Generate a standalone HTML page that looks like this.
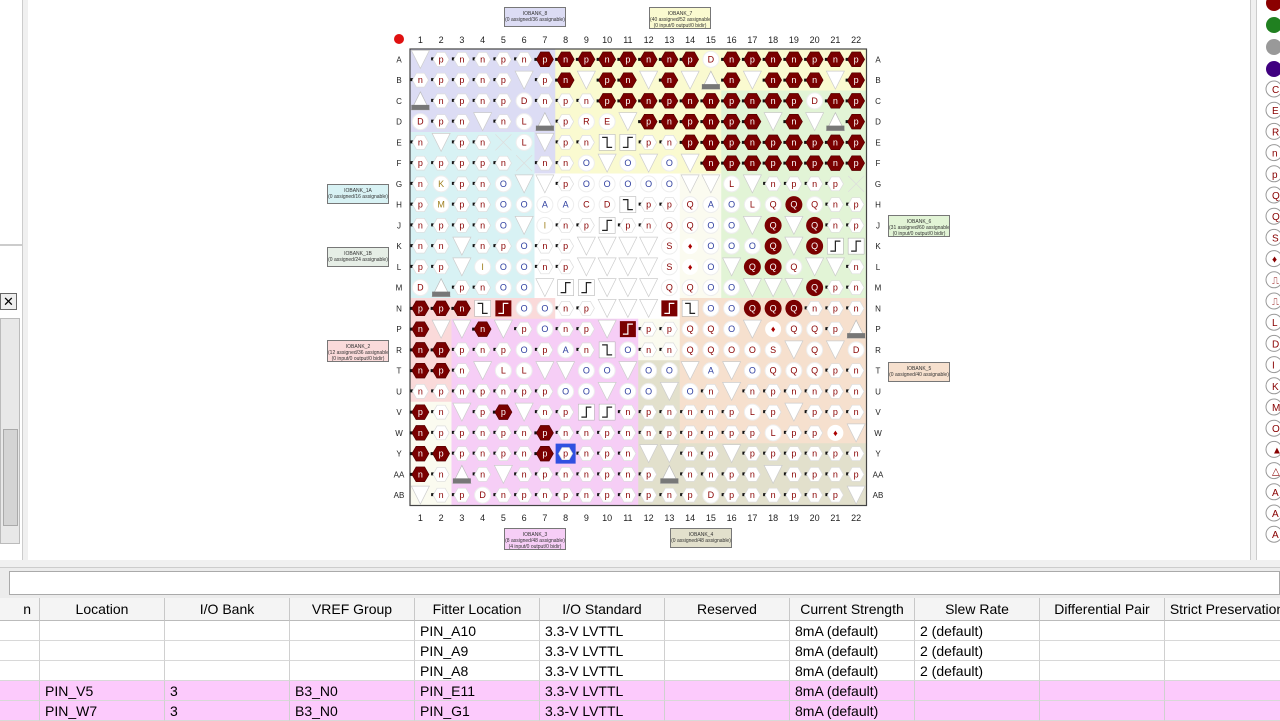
<!DOCTYPE html>
<html><head><meta charset="utf-8">
<style>
body{margin:0;width:1280px;height:720px;overflow:hidden;background:#f0f0f0;font-family:"Liberation Sans",sans-serif;position:relative}
.abs{position:absolute}
.tbl{position:absolute;left:0;top:598px;width:1280px;font-size:14px;color:#000}
.cell{position:absolute;height:20px;line-height:20px;border-right:1px solid #d0d0d0;border-bottom:1px solid #d8d8d8;box-sizing:border-box;padding-left:5px;white-space:nowrap;overflow:hidden}
.hd{text-align:center;padding:0;background:#f4f4f4;border-right:1px solid #c8c8c8;border-bottom:1px solid #bbb;height:23px;line-height:23px}
.bank{position:absolute;border:1px solid #777;font-size:5px;line-height:6px;text-align:center;color:#333;box-sizing:border-box;padding-top:3px;white-space:nowrap;overflow:hidden}
</style></head><body>
<div class="abs" style="left:0;top:0;width:22px;height:560px;background:#fff;border-right:1px solid #ccc"></div>
<div class="abs" style="left:0;top:244px;width:22px;height:2px;background:#ccc"></div>
<div class="abs" style="left:0;top:293px;width:15px;height:15px;border:1px solid #666;background:#eee;font-size:13px;line-height:15px;text-align:center">✕</div>
<div class="abs" style="left:0;top:318px;width:18px;height:224px;background:#e8e8e8;border:1px solid #bbb"><div style="position:absolute;left:2px;top:110px;width:13px;height:95px;background:#d4d4d4;border:1px solid #aaa"></div></div>
<div class="abs" style="left:28px;top:0;width:1222px;height:560px;background:#fff;border-right:1px solid #ccc"></div>
<div class="abs" style="left:1256px;top:0;width:24px;height:560px;background:#fff;border-left:1px solid #ccc"></div>
<svg class="abs" style="left:0;top:0" width="1280" height="560" id="chip"></svg>
<div class="abs" style="left:0;top:567px;width:1280px;height:30px;background:#ececec;border-top:1px solid #ccc"></div>
<div class="abs" style="left:9px;top:571px;width:1271px;height:24px;background:#fff;border:1px solid #aaa;box-sizing:border-box"></div>
<div class="tbl" id="tbl"></div>
<script>
const rows=["A","B","C","D","E","F","G","H","J","K","L","M","N","P","R","T","U","V","W","Y","AA","AB"];
const grid=[
"vpnnpnPNPNPNNPDNPNNPNP",
"nppnpvpNvPNvNv^NvNNNvP",
"^npnpDnpnPPNPNNPNNPDNP",
"DpnvnL^pREvPNPNPNvNv^P",
"nvpnxLvpn[]pnPNPNPNPNP",
"ppppnxnnOvOvOvNPNPNPNP",
"nKpnOvvpOOOOOvvLvnpnpx",
"pMpnOOAAcD[ppqAOLqQqnp",
"nppnOvInp]pnqqOOvQvQnp",
"nnvnpOnpvvvvSROOOQvQ]]",
"ppvIOOnpvvvvSROvQQqvvn",
"D^pnOOv]]vvvqqOOvvvQpn",
"PPN[BOOnpvvvB[OOQQQnpn",
"NvvNvpOnpvBppqqOvRqqp^",
"NPpnpOpAn[OnnqqooSvqvD",
"NPnvLLvvOOvOOvAvOqqqpn",
"npnpnppOOvOOvOnvnpnnpn",
"PnvpPvnp]]npnnnpLpvppn",
"NppnpnPnnpnnpppppLppRvn",
"NPpnpnPSnpnvvnpvpppnpnp",
"Nn^nvnpnnpnp^nnpnvnpnpn",
"vnpDnpnpnpnpnpDpnnpnpv"];
const banks=[
 {c:[1,22],r:[1,22],col:"#fbfbf0"},
 {c:[1,10],r:[1,7],col:"#dcdcf4"},
 {c:[8,22],r:[1,6],col:"#fafad0"},
 {c:[16,22],r:[3,13],col:"#e2f4d6"},
 {c:[1,6],r:[5,12],col:"#d8f2f4"},
 {c:[7,13],r:[7,13],col:"#ffffff"},
 {c:[1,7],r:[13,17],col:"#fadada"},
 {c:[10,22],r:[16,22],col:"#e2e0cc"},
 {c:[3,11],r:[14,22],col:"#f6cef6"},
 {c:[14,22],r:[13,19],col:"#f6e0ce"}
];
const svg=document.getElementById('chip');
const NS="http://www.w3.org/2000/svg";
const X0=410,Y0=49,S=20.75;
const cx=c=>X0+(c-0.5)*S, cy=r=>Y0+(r-0.5)*S;
function mk(t,a,p){const e=document.createElementNS(NS,t);for(const k in a)e.setAttribute(k,a[k]);(p||svg).appendChild(e);return e;}
banks.forEach(b=>{const e=mk('rect',{x:X0+(b.c[0]-1)*S,y:Y0+(b.r[0]-1)*S,width:(b.c[1]-b.c[0]+1)*S,height:(b.r[1]-b.r[0]+1)*S,fill:b.col});

});
mk('rect',{x:X0,y:Y0,width:22*S,height:22*S,fill:'none',stroke:'#444','stroke-width':1.2});
mk('circle',{cx:399,cy:39,r:5,fill:'#e01010'});
for(let c=1;c<=22;c++){[39,517].forEach(y=>{const t=mk('text',{x:cx(c),y:y+4,'font-size':9,'text-anchor':'middle',fill:'#222'});t.textContent=c;});}
rows.forEach((r,i)=>{[399,878].forEach(x=>{const t=mk('text',{x:x,y:cy(i+1)+3,'font-size':8,'text-anchor':'middle',fill:'#222'});t.textContent=r;});});
function hex(x,y,r,fill,stroke,g){let p=[];for(let k=0;k<6;k++){const a=Math.PI/3*k;p.push((x+r*Math.cos(a)).toFixed(1)+','+(y+r*Math.sin(a)).toFixed(1));}return mk('polygon',{points:p.join(' '),fill:fill,stroke:stroke,'stroke-width':0.7},g);}
grid.forEach((row,ri)=>{for(let ci=0;ci<22;ci++){const ch=row[ci];if(!ch)continue;const x=cx(ci+1),y=cy(ri+1);let g=mk('g',{});


const lbl=(t,col)=>{const e=mk('text',{x:x,y:y+3,'font-size':9,'text-anchor':'middle',fill:col},g);e.textContent=t;};
if(ch==='p'||ch==='n'){mk('rect',{x:x-10,y:y-2,width:3,height:3,fill:'#111'},g);hex(x,y,8,'#fff','#ddd',g);lbl(ch,'#800');}
else if(ch==='P'||ch==='N'){mk('rect',{x:x-10.5,y:y-1.5,width:3,height:3,fill:'#111'},g);hex(x,y,8.5,'#7a0000','#500',g);lbl(ch.toLowerCase(),'#fff');}
else if(ch==='v'){mk('polygon',{points:`${x-9},${y-9} ${x+9},${y-9} ${x},${y+9}`,fill:'#fff',stroke:'#ccc','stroke-width':0.7},g);}
else if(ch==='^'){mk('polygon',{points:`${x},${y-9} ${x+9},${y+9} ${x-9},${y+9}`,fill:'#fff',stroke:'#bbb','stroke-width':0.7},g);mk('rect',{x:x-9,y:y+4,width:18,height:5,fill:'#777'},g);}
else if(ch==='x'){mk('path',{d:`M${x-8} ${y-8}L${x+8} ${y+8}M${x+8} ${y-8}L${x-8} ${y+8}`,stroke:'#ddd','stroke-width':0.7},g);}
else if(ch==='['||ch===']'){mk('rect',{x:x-8,y:y-8,width:16,height:16,fill:'#fff',stroke:'#aaa','stroke-width':0.5},g);mk('path',{d:ch==='['?`M${x-5} ${y-5}H${x}V${y+5}H${x+5}`:`M${x-5} ${y+5}H${x}V${y-5}H${x+5}`,fill:'none',stroke:'#222','stroke-width':1.2},g);}
else if(ch==='B'){mk('rect',{x:x-8,y:y-8,width:16,height:16,fill:'#7a0000'},g);mk('path',{d:`M${x-5} ${y+5}H${x}V${y-5}H${x+5}`,fill:'none',stroke:'#fff','stroke-width':1.2},g);}
else if(ch==='Q'){mk('circle',{cx:x,cy:y,r:8.5,fill:'#7a0000'},g);lbl('Q','#fff');}
else if(ch==='S'&&ri===19){mk('rect',{x:x-10,y:y-10,width:20,height:20,fill:'#3050e0'},g);hex(x,y,7,'#fff','#ddd',g);lbl('p','#800');}
else if(ch==='R'&&ci>11){mk('circle',{cx:x,cy:y,r:8,fill:'#fff'},g);lbl('♦','#a00');}
else {mk('circle',{cx:x,cy:y,r:8,fill:'#fff',stroke:'#eee'},g);const col=/[OA]/.test(ch)?'#3040a0':(ch==='K'||ch==='M'||ch==='I')?'#a08020':'#800';lbl(ch==='q'||ch==='o'?ch.toUpperCase():ch==='c'?'C':ch,col);}
}});
const bl=[[504,7,"#dcdcf4",["IOBANK_8","(0 assigned/36 assignable)"]],[649,7,"#fafad0",["IOBANK_7","(40 assigned/52 assignable)","(0 input/0 output/0 bidir)"]],
[327,184,"#d8f2f4",["IOBANK_1A","(0 assigned/16 assignable)"]],[327,247,"#e6eee6",["IOBANK_1B","(0 assigned/24 assignable)"]],
[327,340,"#fadada",["IOBANK_2","(12 assigned/36 assignable)","(0 input/0 output/0 bidir)"]],[888,215,"#e2f4d6",["IOBANK_6","(31 assigned/60 assignable)","(0 input/0 output/0 bidir)"]],
[888,362,"#f6e0ce",["IOBANK_5","(0 assigned/40 assignable)"]],[504,528,"#f6cef6",["IOBANK_3","(8 assigned/48 assignable)","(4 input/0 output/0 bidir)"]],
[670,528,"#e2e0cc",["IOBANK_4","(0 assigned/48 assignable)"]]];
bl.forEach(b=>{const d=document.createElement('div');d.className='bank';d.style.left=b[0]+'px';d.style.top=b[1]+'px';d.style.width='62px';d.style.height=(b[3].length>2?22:20)+'px';d.style.background=b[2];d.innerHTML=b[3].join('<br>');


document.body.appendChild(d);});
const lg=["#8b0000","#208020","#999","#400080"];
lg.forEach((c,i)=>{mk('circle',{cx:1274,cy:3+i*22,r:8,fill:c});});
["C","E","R","n","p","Q","Q","S","♦","⎍","⎍","L","D","I","K","M","O","▲","△","A","A","A"].forEach((t,i)=>{const y=89+i*21.2;mk('circle',{cx:1274,cy:y,r:8,fill:'#fff',stroke:'#999'});const e=mk('text',{x:1272,y:y+4,'font-size':10,fill:'#800'});e.textContent=t;});
const cols=[[0,40,"n"],[40,165,"Location"],[165,290,"I/O Bank"],[290,415,"VREF Group"],[415,540,"Fitter Location"],[540,665,"I/O Standard"],[665,790,"Reserved"],[790,915,"Current Strength"],[915,1040,"Slew Rate"],[1040,1165,"Differential Pair"],[1165,1290,"Strict Preservation"]];
const data=[["","","","","PIN_A10","3.3-V LVTTL","","8mA (default)","2 (default)","",""],
["","","","","PIN_A9","3.3-V LVTTL","","8mA (default)","2 (default)","",""],
["","","","","PIN_A8","3.3-V LVTTL","","8mA (default)","2 (default)","",""],
["","PIN_V5","3","B3_N0","PIN_E11","3.3-V LVTTL","","8mA (default)","","",""],
["","PIN_W7","3","B3_N0","PIN_G1","3.3-V LVTTL","","8mA (default)","","",""]];
const T=document.getElementById('tbl');
cols.forEach(c=>{const d=document.createElement('div');d.className='cell hd';d.style.left=c[0]+'px';d.style.width=(c[1]-c[0])+'px';d.textContent=c[2];if(c[2]==="n"){d.style.textAlign='right';d.style.paddingRight='8px';}


T.appendChild(d);});
data.forEach((r,ri)=>{cols.forEach((c,ci)=>{const d=document.createElement('div');d.className='cell';d.style.left=c[0]+'px';d.style.top=(23+ri*20)+'px';d.style.width=(c[1]-c[0])+'px';d.style.background=ri>=3?'#fccafc':'#fff';d.textContent=r[ci];


T.appendChild(d);});});
</script>
</body></html>
